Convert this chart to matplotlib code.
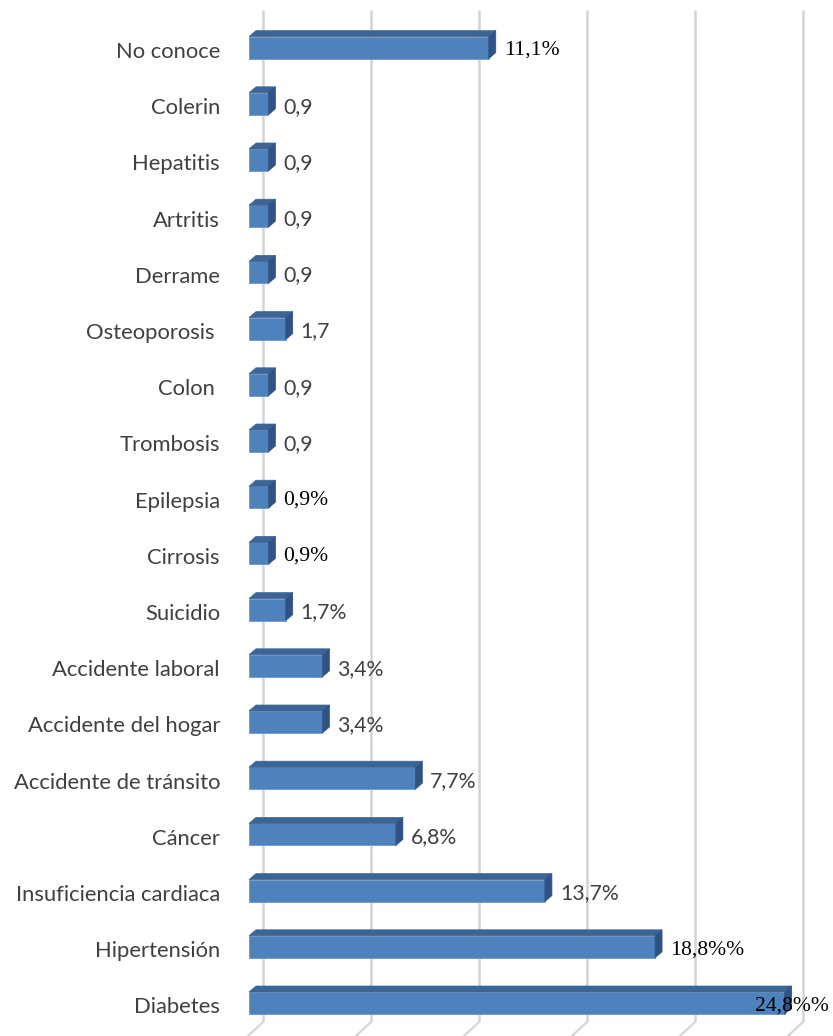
import matplotlib.pyplot as plt
from matplotlib.patches import Polygon

# categorias de abajo hacia arriba (Diabetes abajo)
categorias = ['Diabetes', 'Hipertensión', 'Insuficiencia cardiaca', 'Cáncer',
              'Accidente de tránsito', 'Accidente del hogar', 'Accidente laboral',
              'Suicidio', 'Cirrosis', 'Epilepsia', 'Trombosis', 'Colon ',
              'Osteoporosis ', 'Derrame', 'Artritis', 'Hepatitis', 'Colerin',
              'No conoce']
valores = [24.8, 18.8, 13.7, 6.8, 7.7, 3.4, 3.4, 1.7, 0.9, 0.9, 0.9, 0.9,
           1.7, 0.9, 0.9, 0.9, 0.9, 11.1]
etiquetas = ['24,8%%', '18,8%%', '13,7%', '6,8%', '7,7%', '3,4%', '3,4%',
             '1,7%', '0,9%', '0,9%', '0,9', '0,9', '1,7', '0,9', '0,9', '0,9',
             '0,9', '11,1%']
# True = etiqueta en Times (serif, negra), False = Calibri-like (gris)
serif = [True, True, False, False, False, False, False, False, True, True,
         False, False, False, False, False, False, False, True]
ticks = [0, 5, 10, 15, 20, 25]

W, H = 833, 1036
px_x = 21.6     # pixeles por unidad (%)
px_y = 56.2     # pixeles por fila

fig = plt.figure(figsize=(W/100, H/100), dpi=100)
ax = fig.add_axes([0, 0, 1, 1])
ax.set_xlim(-249/px_x, (W-249)/px_x)
ax.set_ylim(-33/px_y, 1003/px_y)
ax.axis('off')

# pared del fondo y piso
bx = 14/px_x
by_top = (1003-10)/px_y
by_bot = -19/px_y
for g in ticks:
    ax.plot([g+bx, g+bx], [by_bot, by_top], color='#d4d4d4', lw=1.8, zorder=1,
            solid_capstyle='butt')
    ax.plot([g+bx, g+bx-15/px_x], [by_bot, -33/px_y], color='#d4d4d4', lw=1.5,
            zorder=1)

h = 22/px_y
dx = 7/px_x
dy = 6/px_y
frente = '#4f81bd'
arriba = '#3c6596'
lado = '#2f5384'

ys = list(range(len(categorias)))
ax.barh(ys, valores, height=h, left=0, color=frente, edgecolor='#6f97c8',
        linewidth=0.6, zorder=3)
for y, v in zip(ys, valores):
    t = y + h/2
    b = y - h/2
    ax.add_patch(Polygon([(0, t), (v, t), (v+dx, t+dy), (dx, t+dy)],
                         closed=True, facecolor=arriba, edgecolor=arriba,
                         lw=0.5, zorder=3))
    ax.add_patch(Polygon([(v, b), (v+dx, b+dy), (v+dx, t+dy), (v, t)],
                         closed=True, facecolor=lado, edgecolor=lado,
                         lw=0.5, zorder=3))

sans = ['Lato', 'DejaVu Sans']
for y, cat in zip(ys, categorias):
    ax.text(-29/px_x, y - 0.08, cat, ha='right', va='center', fontsize=15.8,
            family=sans, color='#404040')

for y, v, lab, s in zip(ys, valores, etiquetas, serif):
    if y == 0:
        x = 755/px_x - 249/px_x
    else:
        x = v + dx + 8/px_x
    if s:
        ax.text(x, y - 0.05, lab, ha='left', va='center', fontsize=15.6,
                family=['Liberation Serif'], color='black', zorder=5)
    else:
        ax.text(x, y - 0.05, lab, ha='left', va='center', fontsize=15.3,
                family=sans, color='#404040', zorder=5)

fig.savefig('out.png', dpi=100)
